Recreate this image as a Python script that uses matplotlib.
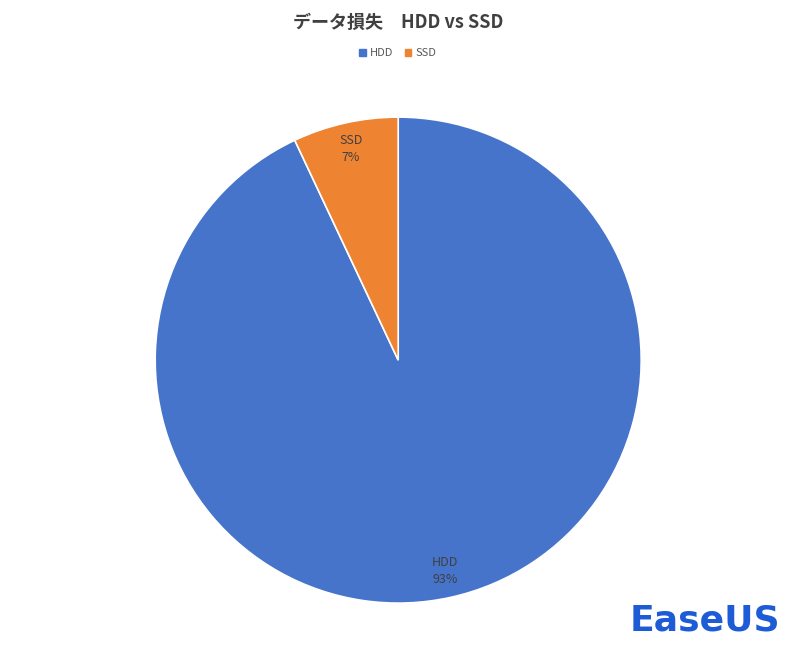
import matplotlib
matplotlib.use("Agg")
import matplotlib.pyplot as plt

plt.rcParams['font.family'] = ['Noto Sans CJK JP', 'DejaVu Sans']

labels = ["HDD", "SSD"]
values = [93, 7]
colors = ["#4674CB", "#EE8432"]
title = "データ損失　HDD vs SSD"

fig = plt.figure(figsize=(8, 6.5), dpi=100)
ax = fig.add_axes([0.194, 0.072, 0.6075, 0.748])
wedges, texts = ax.pie(values, colors=colors, startangle=90, counterclock=False,
                       wedgeprops=dict(edgecolor="white", linewidth=1.2))
import numpy as np
for w, lab, v in zip(wedges, labels, values):
    ang = np.deg2rad((w.theta1 + w.theta2) / 2)
    r = 0.89
    ax.text(r*np.cos(ang), r*np.sin(ang), f"{lab}\n{v}%", ha="center", va="center",
            fontsize=9, color="#404040", linespacing=1.4)
ax.set_aspect("equal")
ax.set_xlim(-1, 1); ax.set_ylim(-1, 1)

fig.text(0.4975, 0.965, title, ha="center", va="center", fontsize=13, fontweight="bold", color="#404040")
handles = [plt.Rectangle((0, 0), 1, 1, color=c) for c in colors]
fig.legend(handles, labels, loc="center", bbox_to_anchor=(0.4975, 0.918), ncol=2, frameon=False,
           fontsize=8, handlelength=0.6, handleheight=0.6, columnspacing=1.0, handletextpad=0.4,
           labelcolor="#595959")
fig.text(0.975, 0.045, "EaseUS", ha="right", va="center", fontsize=26, fontweight="bold",
         color="#1E5BD6", family=["DejaVu Sans"])
fig.savefig("out.png", dpi=100)
